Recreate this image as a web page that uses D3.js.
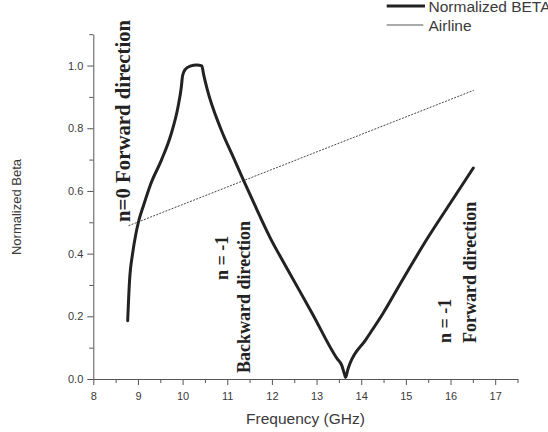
<!DOCTYPE html>
<html>
<head>
<meta charset="utf-8">
<script src="https://cdn.jsdelivr.net/npm/d3@7"></script>
<style>
  body { margin: 0; background: #fff; }
  svg { display: block; }
</style>
</head>
<body>
<div id="vis"></div>
<script>
// Normalized beta vs frequency (dispersion curve) + airline

const WIDTH = 548;
const HEIGHT = 432;

// Datos: frecuencia (GHz) y beta normalizado
const beta_freq = [8.77, 8.81, 8.88, 8.95, 9.01, 9.13, 9.28, 9.53, 9.74, 9.90, 9.97, 10.0, 10.06, 10.17,
    10.32, 10.43, 10.47, 10.55, 10.85, 11.15, 11.37, 11.60, 11.97, 12.31, 12.90, 13.46, 13.56, 13.62,
    13.65, 13.70, 13.75, 14.1, 14.49, 14.94, 15.48, 15.99, 16.51];
const beta_vals = [0.186, 0.31, 0.40, 0.46, 0.50, 0.556, 0.62, 0.70, 0.78, 0.87, 0.93, 0.968, 0.988, 0.998,
    1.002, 0.999, 0.972, 0.925, 0.80, 0.703, 0.632, 0.56, 0.448, 0.36, 0.21, 0.065, 0.045, 0.018,
    0.005, 0.03, 0.05, 0.125, 0.21, 0.32, 0.448, 0.56, 0.673];

const airline_freq = [8.79, 16.52];
const airline_vals = [0.489, 0.921];

// Ejes
const x_ticks = [8, 9, 10, 11, 12, 13, 14, 15, 16, 17];
const y_ticks = [0.0, 0.2, 0.4, 0.6, 0.8, 1.0];

// Anotaciones (texto vertical) ancladas en coordenadas de datos
const notes_text = ["n=0 Forward direction", "n = -1", "Backward direction", "n = -1", "Forward direction"];
const notes_freq = [8.665, 10.876, 11.375, 15.877, 16.42];
const notes_beta = [0.501, 0.316, 0.019, 0.115, 0.115];
const notes_big = [true, false, false, false, false];

const legend_labels = ["Normalized BETA", "Airline"];

const SVG = d3.select("#vis").append("svg").attr("width", WIDTH).attr("height", HEIGHT);

const x = d3.scaleLinear().domain([8, 17.5]).range([93.3, 517.5]);
const y = d3.scaleLinear().domain([0, 1.1]).range([379, 34.2]);

const AXIS_COLOR = "#555";
const TEXT_COLOR = "#3a3a3a";

// Eje X (menores cada 0.5)
const x_minor = d3.range(8, 17.51, 0.5).filter(v => !x_ticks.includes(v));
SVG.append("g").attr("transform", `translate(0, ${y(0)})`)
    .call(d3.axisBottom(x).tickValues(x_minor).tickSize(4).tickSizeOuter(0).tickFormat(""))
    .call(g => g.selectAll("line").attr("stroke", AXIS_COLOR))
    .call(g => g.select(".domain").attr("stroke", AXIS_COLOR));
SVG.append("g").attr("transform", `translate(0, ${y(0)})`)
    .call(d3.axisBottom(x).tickValues(x_ticks).tickSize(6).tickSizeOuter(0).tickPadding(7).tickFormat(d3.format("d")))
    .call(g => g.select(".domain").remove())
    .call(g => g.selectAll("line").attr("stroke", AXIS_COLOR))
    .call(g => g.selectAll("text").attr("fill", TEXT_COLOR).attr("font-family", "Liberation Sans, Arial, sans-serif").attr("font-size", 11));

// Eje Y (menores cada 0.1)
const y_minor = [0.1, 0.3, 0.5, 0.7, 0.9, 1.1];
SVG.append("g").attr("transform", `translate(${x(8)}, 0)`)
    .call(d3.axisLeft(y).tickValues(y_minor).tickSize(4).tickSizeOuter(0).tickFormat(""))
    .call(g => g.selectAll("line").attr("stroke", AXIS_COLOR))
    .call(g => g.select(".domain").attr("stroke", AXIS_COLOR));
SVG.append("g").attr("transform", `translate(${x(8)}, 0)`)
    .call(d3.axisLeft(y).tickValues(y_ticks).tickSize(6).tickSizeOuter(0).tickPadding(4).tickFormat(d3.format(".1f")))
    .call(g => g.select(".domain").remove())
    .call(g => g.selectAll("line").attr("stroke", AXIS_COLOR))
    .call(g => g.selectAll("text").attr("fill", TEXT_COLOR).attr("font-family", "Liberation Sans, Arial, sans-serif").attr("font-size", 11));

// Titulos de ejes
SVG.append("text").text("Frequency (GHz)")
    .attr("x", 305.5).attr("y", 424).attr("text-anchor", "middle")
    .attr("font-family", "Liberation Sans, Arial, sans-serif").attr("font-size", 15.5).attr("fill", TEXT_COLOR);
SVG.append("text").text("Normalized Beta")
    .attr("transform", "translate(21, 207) rotate(-90)").attr("text-anchor", "middle")
    .attr("font-family", "Liberation Sans, Arial, sans-serif").attr("font-size", 13).attr("fill", TEXT_COLOR);

// Airline (linea punteada)
const airline = d3.zip(airline_freq, airline_vals);
SVG.append("path").datum(airline)
    .attr("d", d3.line().x(d => x(d[0])).y(d => y(d[1])))
    .attr("fill", "none").attr("stroke", "#333").attr("stroke-width", 0.9).attr("stroke-dasharray", "2,1.3");

// Curva beta normalizado
const beta = d3.zip(beta_freq, beta_vals);
SVG.append("path").datum(beta)
    .attr("d", d3.line().x(d => x(d[0])).y(d => y(d[1])).curve(d3.curveMonotoneX))
    .attr("fill", "none").attr("stroke", "#222").attr("stroke-width", 3)
    .attr("stroke-linejoin", "round").attr("stroke-linecap", "round");

// Anotaciones verticales
const notes = notes_text.map((t, i) => ({ t: t, f: notes_freq[i], b: notes_beta[i], big: notes_big[i] }));
SVG.selectAll(".nota").data(notes).join("text").attr("class", "nota")
    .text(d => d.t)
    .attr("transform", d => `translate(${x(d.f)}, ${y(d.b)}) rotate(-90)`)
    .attr("dy", "0.35em")
    .attr("font-family", "Liberation Serif, Times New Roman, serif").attr("font-weight", "bold")
    .attr("font-size", d => d.big ? 20.8 : 18).attr("fill", "#222");

// Leyenda
const legend = SVG.append("g");
legend.append("line").attr("x1", 386.7).attr("x2", 425).attr("y1", 6).attr("y2", 6).attr("stroke", "#222").attr("stroke-width", 3);
legend.append("line").attr("x1", 386.7).attr("x2", 423.3).attr("y1", 25).attr("y2", 25).attr("stroke", "#555").attr("stroke-width", 1);
legend.selectAll(".leg-txt").data(legend_labels).join("text").attr("class", "leg-txt")
    .text(d => d)
    .attr("x", 428.5).attr("y", (d, i) => 11.5 + i * 19)
    .attr("font-family", "Liberation Sans, Arial, sans-serif").attr("font-size", 15.5).attr("fill", TEXT_COLOR);
</script>
</body>
</html>
